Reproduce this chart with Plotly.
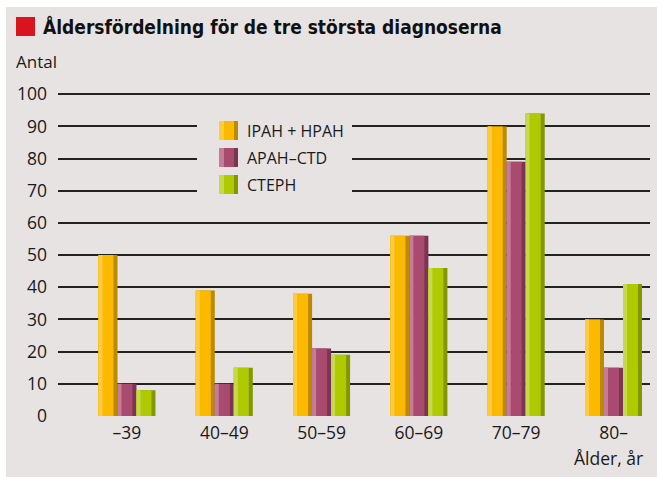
import plotly.graph_objects as go

categories = ["–39", "40–49", "50–59", "60–69", "70–79", "80–"]
series_names = ["IPAH + HPAH", "APAH–CTD", "CTEPH"]
ipah_hpah = [50, 39, 38, 56, 90, 30]
apah_ctd = [10, 10, 21, 56, 79, 15]
cteph = [8, 15, 19, 46, 94, 41]
y_ticks = [0, 10, 20, 30, 40, 50, 60, 70, 80, 90, 100]

series_values = [ipah_hpah, apah_ctd, cteph]
# (light, main, dark)
shades = [
    ("#FDCB3C", "#FBB900", "#BC8A00"),
    ("#C47C98", "#A94A6F", "#7B3552"),
    ("#C6D94C", "#AFCA00", "#839700"),
]

W, H = 657, 477
ML, MR, MT, MB = 58, 7, 91, 61
PW, PH = W - ML - MR, H - MT - MB
X0, X1 = -0.709, 5.375
Y0, Y1 = 0, 101
UNIT = PW / (X1 - X0)  # px per category

def px2x(px):
    return (px - ML) / PW

def px2y(py):
    return (H - MB - py) / PH

bar_w = 19 / UNIT
strip = 4 / UNIT
xs = list(range(len(categories)))

fig = go.Figure()
for i, (name, vals) in enumerate(zip(series_names, series_values)):
    light, main, dark = shades[i]
    left = -1.5 * bar_w + i * bar_w
    for (off, wid, col) in [
        (left, bar_w, dark),
        (left, bar_w - strip, main),
        (left, strip, light),
    ]:
        fig.add_trace(go.Bar(
            x=xs, y=vals, offset=off, width=wid,
            marker=dict(color=col, line=dict(width=0)),
            name=name, showlegend=False, hoverinfo="skip",
        ))

shapes = []
# panel background
shapes.append(dict(type="rect", xref="paper", yref="paper", layer="below",
                   x0=px2x(6), x1=px2x(W + 5), y0=px2y(H + 5), y1=px2y(7),
                   fillcolor="#E8E3E3", line=dict(width=0)))
# red title square
shapes.append(dict(type="rect", xref="paper", yref="paper", layer="above",
                   x0=px2x(16), x1=px2x(35), y0=px2y(36), y1=px2y(17),
                   fillcolor="#D8141E", line=dict(width=0)))
# legend cover
shapes.append(dict(type="rect", xref="paper", yref="paper", layer="above",
                   x0=px2x(197), x1=px2x(352), y0=px2y(202), y1=px2y(108),
                   fillcolor="#E8E3E3", line=dict(width=0)))
annotations = []
sw_tops = [121, 148, 175]
for i, name in enumerate(series_names):
    light, main, dark = shades[i]
    t = sw_tops[i]
    b = t + 19
    for (a, c, col) in [(219, 238, dark), (219, 234, main), (219, 224, light)]:
        shapes.append(dict(type="rect", xref="paper", yref="paper", layer="above",
                           x0=px2x(a), x1=px2x(c), y0=px2y(b), y1=px2y(t),
                           fillcolor=col, line=dict(width=0)))
    annotations.append(dict(xref="paper", yref="paper", x=px2x(245), y=px2y(t + 9.5),
                            xanchor="left", yanchor="middle", showarrow=False,
                            text=name, font=dict(size=16, color="#1a1a1a", family="Open Sans")))

annotations.append(dict(xref="paper", yref="paper", x=px2x(41), y=px2y(27),
                        xanchor="left", yanchor="middle", showarrow=False,
                        text="<b>Åldersfördelning för de tre största diagnoserna</b>",
                        font=dict(size=19, color="#111111",
                                  family="Liberation Sans Narrow, DejaVu Sans Condensed, sans-serif")))
annotations.append(dict(xref="paper", yref="paper", x=px2x(14), y=px2y(61),
                        xanchor="left", yanchor="middle", showarrow=False,
                        text="Antal", font=dict(size=17, color="#1a1a1a", family="Open Sans")))
annotations.append(dict(xref="paper", yref="paper", x=px2x(645), y=px2y(458),
                        xanchor="right", yanchor="middle", showarrow=False,
                        text="Ålder, år", font=dict(size=17.5, color="#1a1a1a", family="Open Sans")))

fig.update_layout(
    width=W, height=H,
    margin=dict(l=ML, r=MR, t=MT, b=MB, pad=0),
    paper_bgcolor="white", plot_bgcolor="rgba(0,0,0,0)",
    barmode="overlay", showlegend=False,
    shapes=shapes, annotations=annotations,
    font=dict(family="Open Sans", size=17.5, color="#1a1a1a"),
    xaxis=dict(range=[X0, X1], tickvals=xs, ticktext=categories, showgrid=False,
               zeroline=False, showline=False, ticks="", ticklabelstandoff=4,
               tickfont=dict(size=17.5, color="#1a1a1a")),
    yaxis=dict(range=[Y0, Y1], tickvals=y_ticks, showgrid=True, gridcolor="#222222",
               gridwidth=2, zeroline=True, zerolinecolor="#E8E3E3", zerolinewidth=2,
               showline=False, ticks="", ticklabelstandoff=10,
               tickfont=dict(size=17.5, color="#1a1a1a")),
)

fig.write_html("out.html", config={"displayModeBar": False},
               post_script="document.body.style.margin='0px';")
